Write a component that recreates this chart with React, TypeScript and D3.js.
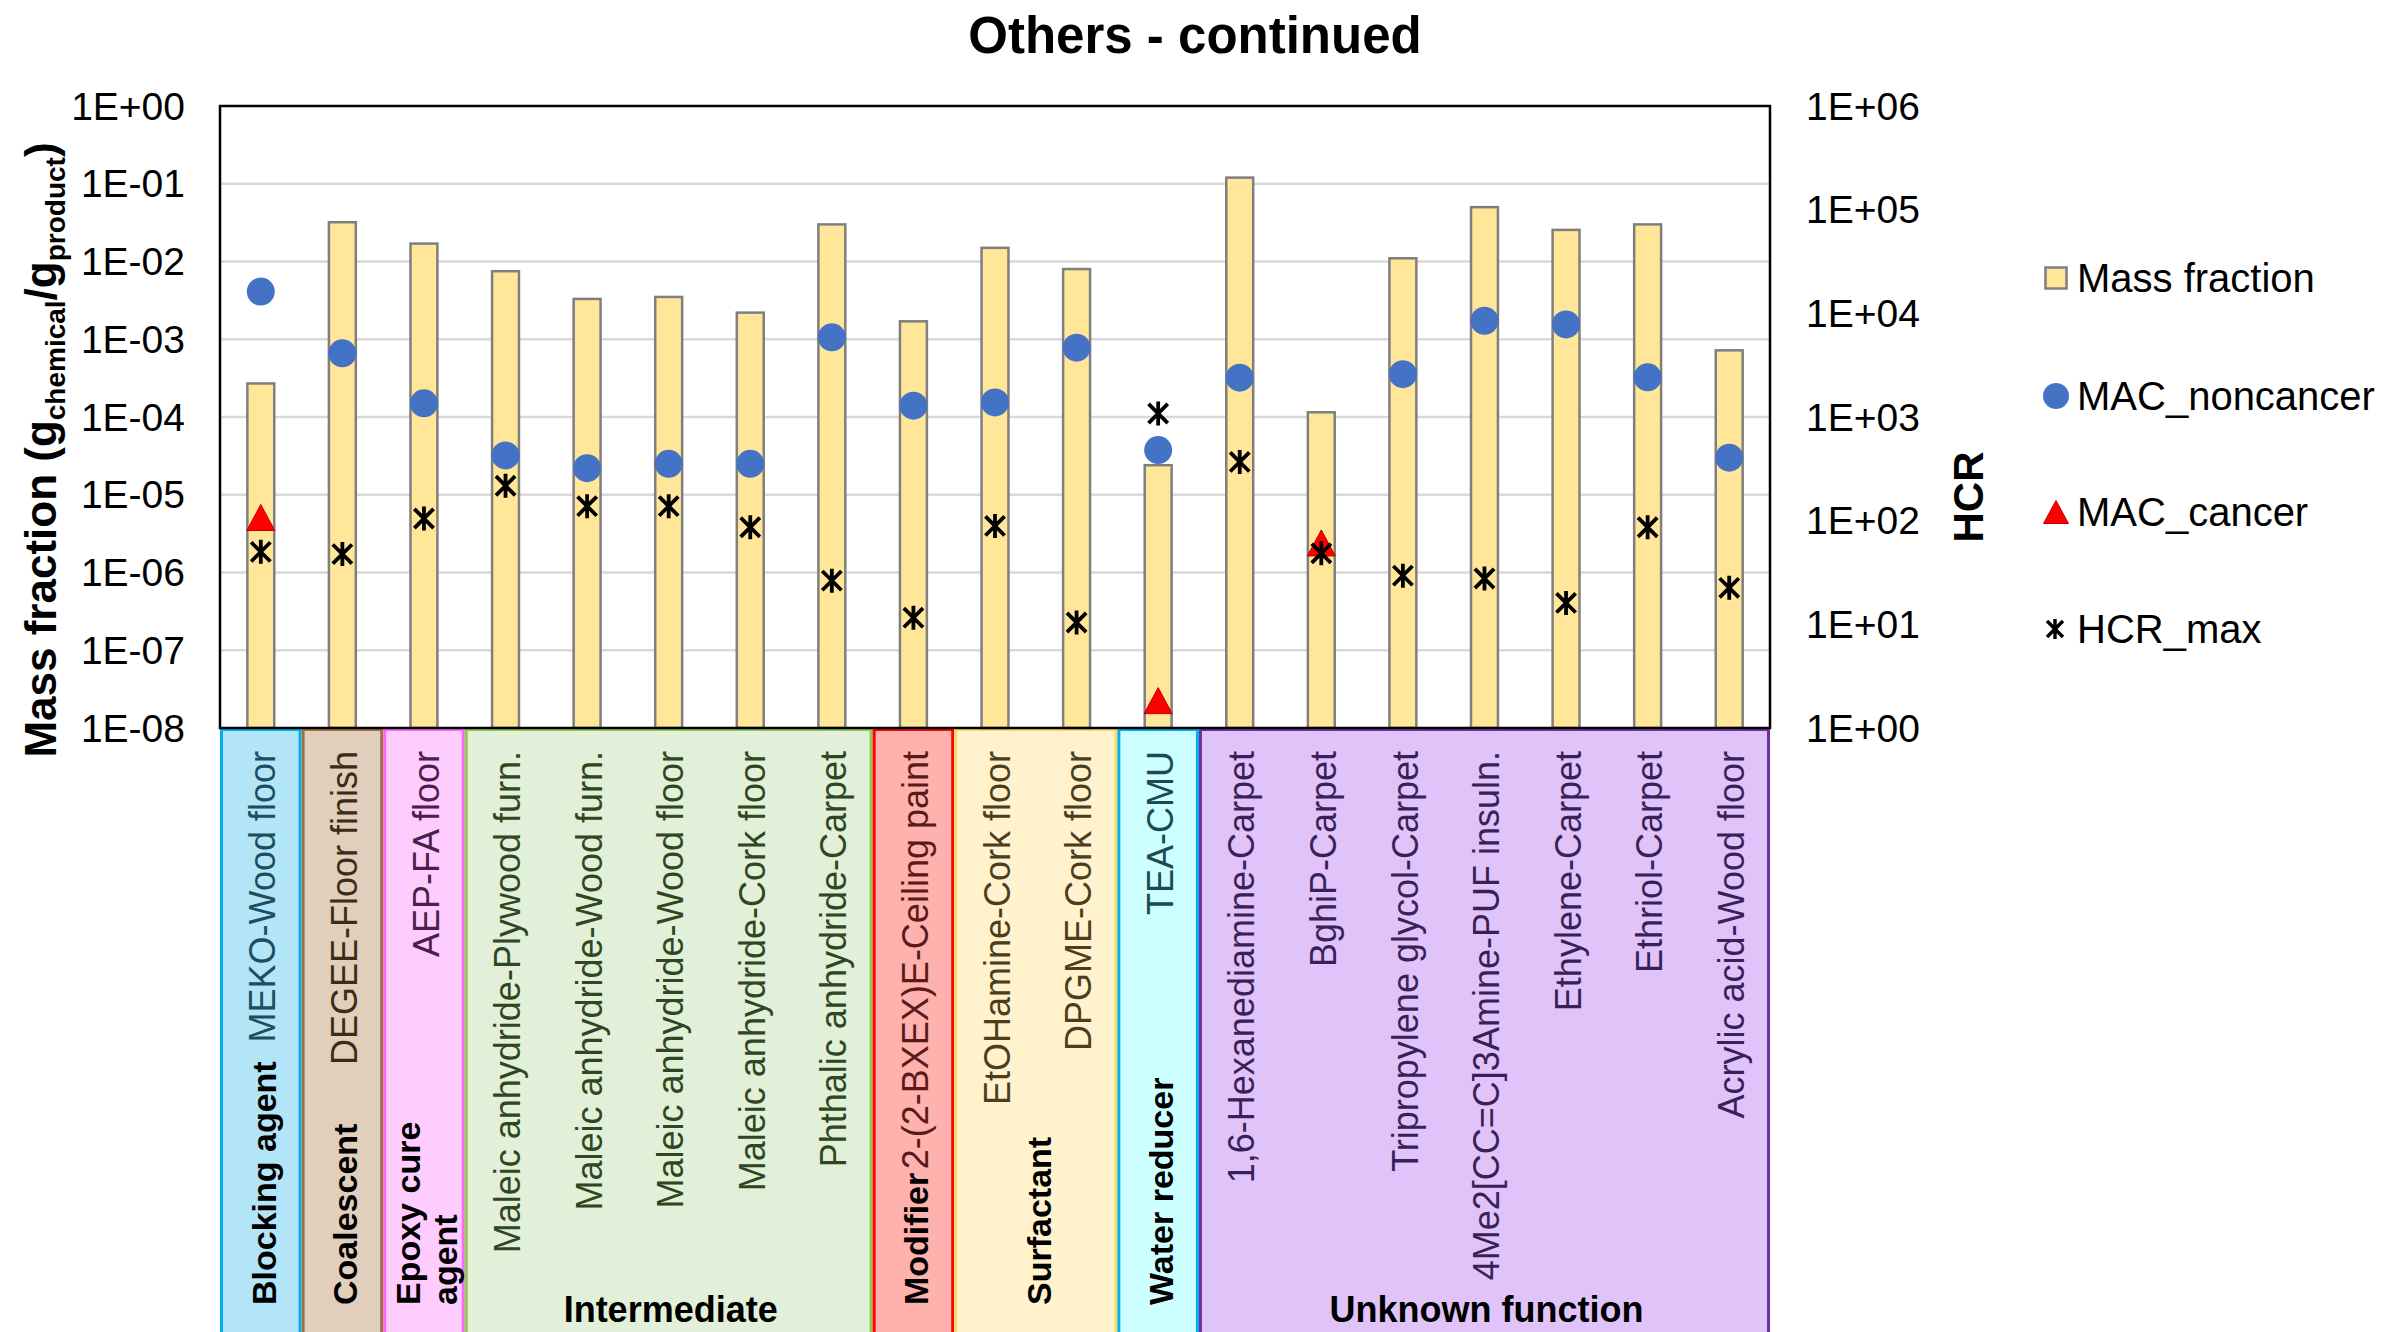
import React from "react";
import * as d3 from "d3";

// Product / chemical combinations along the x axis
const categories = [
  "MEKO-Wood floor",
  "DEGEE-Floor finish",
  "AEP-FA floor",
  "Maleic anhydride-Plywood furn.",
  "Maleic anhydride-Wood furn.",
  "Maleic anhydride-Wood floor",
  "Maleic anhydride-Cork floor",
  "Phthalic anhydride-Carpet",
  "2-(2-BXEX)E-Ceiling paint",
  "EtOHamine-Cork floor",
  "DPGME-Cork floor",
  "TEA-CMU",
  "1,6-Hexanediamine-Carpet",
  "BghiP-Carpet",
  "Tripropylene glycol-Carpet",
  "4Me2[CC=C]3Amine-PUF insuln.",
  "Ethylene-Carpet",
  "Ethriol-Carpet",
  "Acrylic acid-Wood floor",
];

// Left axis series (g chemical / g product)
const massFraction = [
  2.7e-4, 3.2e-2, 1.7e-2, 7.5e-3, 3.3e-3, 3.5e-3, 2.2e-3, 3.0e-2, 1.7e-3, 1.5e-2,
  8.0e-3, 2.4e-5, 1.2e-1, 1.15e-4, 1.1e-2, 5.0e-2, 2.55e-2, 3.0e-2, 7.2e-4,
];
const macNoncancer: (number | null)[] = [
  4.1e-3, 6.6e-4, 1.5e-4, 3.2e-5, 2.2e-5, 2.5e-5, 2.5e-5, 1.06e-3, 1.4e-4, 1.54e-4,
  7.8e-4, 3.75e-5, 3.2e-4, null, 3.55e-4, 1.73e-3, 1.55e-3, 3.24e-4, 3.0e-5,
];
const macCancer: (number | null)[] = [
  5.1e-6, null, null, null, null, null, null, null, null, null,
  null, 2.25e-8, null, 2.4e-6, null, null, null, null, null,
];

// Right axis series
const hcrMax = [
  50, 47.6, 105, 217, 138, 138, 86.5, 26.4, 11.6, 89,
  10.4, 1080, 369, 48.4, 29.5, 27.7, 16.1, 86.5, 22.5,
];

// Function groups shown as coloured boxes under the axis
const groupLines = [
  ["Blocking agent"],
  ["Coalescent"],
  ["Epoxy cure", "agent"],
  ["Intermediate"],
  ["Modifier"],
  ["Surfactant"],
  ["Water reducer"],
  ["Unknown function"],
];
const groupStart = [0, 1, 2, 3, 8, 9, 11, 12];
const groupEnd = [0, 1, 2, 7, 8, 10, 11, 18];
const groupHorizontal = [false, false, false, true, false, false, false, true];
const groupFill = ["#B3E5F8", "#E1CFBC", "#FFCCFF", "#E2EFD9", "#FFB1AE", "#FFF2CC", "#CCFFFF", "#DFC3F9"];
const groupStroke = ["#00B0F0", "#A0703F", "#FF66FF", "#8CCB4E", "#FF0000", "#FFD966", "#00B0F0", "#7030A0"];
const groupInk = ["#1E4D5E", "#3B2B1A", "#4A2048", "#2E4720", "#5A1A1A", "#4A3E1C", "#1C4A50", "#3A1F58"];

const leftTickExponents = [0, -1, -2, -3, -4, -5, -6, -7, -8];
const rightTickExponents = [6, 5, 4, 3, 2, 1, 0];

const legendLabels = ["Mass fraction", "MAC_noncancer", "MAC_cancer", "HCR_max"];

const W = 2384;
const H = 1332;
const M = { left: 220, right: 1770, top: 106, bottom: 728 };
const FONT = "'Liberation Sans', Arial, Helvetica, sans-serif";

const BAR_FILL = "#FFE699";
const BAR_STROKE = "#7F7F7F";
const CIRCLE = "#4472C4";
const TRI = "#FF0000";

const fmtExp = (e: number) => `1E${e >= 0 ? "+" : "-"}${String(Math.abs(e)).padStart(2, "0")}`;

function starPath(cx: number, cy: number, r: number) {
  const a = r * 0.8;
  return `M${cx - a},${cy - a}L${cx + a},${cy + a}M${cx + a},${cy - a}L${cx - a},${cy + a}M${cx},${cy - r}L${cx},${cy + r}`;
}
function triPath(cx: number, cy: number, w: number, h: number) {
  return `M${cx},${cy - h / 2}L${cx + w / 2},${cy + h / 2}L${cx - w / 2},${cy + h / 2}Z`;
}

export default function App() {
  const x = d3.scaleBand<string>().domain(categories).range([M.left, M.right]).padding(0);
  const yL = d3.scaleLog().domain([1e-8, 1]).range([M.bottom, M.top]);
  const yR = d3.scaleLog().domain([1, 1e6]).range([M.bottom, M.top]);
  const bw = x.bandwidth();
  const barW = bw * 0.33;
  const cx = (i: number) => (x(categories[i]) as number) + bw / 2;

  const boxTop = M.bottom + 1.5;

  return (
    <svg
      width={W}
      height={H}
      viewBox={`0 0 ${W} ${H}`}
      style={{ position: "absolute", left: 0, top: 0, background: "#fff" }}
      fontFamily={FONT}
    >
      <rect x={0} y={0} width={W} height={H} fill="#fff" />

      {/* title */}
      <text x={1195} y={53} textAnchor="middle" fontSize={51} fontWeight="bold" fill="#000">
        Others - continued
      </text>

      {/* gridlines */}
      {leftTickExponents
        .filter((e) => e !== 0 && e !== -8)
        .map((e) => (
          <line
            key={e}
            x1={M.left}
            x2={M.right}
            y1={yL(Math.pow(10, e))}
            y2={yL(Math.pow(10, e))}
            stroke="#D9D9D9"
            strokeWidth={2.5}
          />
        ))}

      {/* group boxes */}
      {groupLines.map((lines, g) => {
        const x0 = (x(categories[groupStart[g]]) as number) + 1.5;
        const x1 = (x(categories[groupEnd[g]]) as number) + bw - 1.5;
        return (
          <rect
            key={g}
            x={x0}
            y={boxTop}
            width={x1 - x0}
            height={H - boxTop + 20}
            fill={groupFill[g]}
            stroke={groupStroke[g]}
            strokeWidth={3}
          />
        );
      })}

      {/* mass fraction bars */}
      {massFraction.map((v, i) => (
        <rect
          key={i}
          x={cx(i) - barW / 2}
          y={yL(v)}
          width={barW}
          height={M.bottom - yL(v)}
          fill={BAR_FILL}
          stroke={BAR_STROKE}
          strokeWidth={2.5}
        />
      ))}

      {/* MAC_noncancer */}
      {macNoncancer.map((v, i) =>
        v == null ? null : <circle key={i} cx={cx(i)} cy={yL(v)} r={14} fill={CIRCLE} />
      )}

      {/* MAC_cancer */}
      {macCancer.map((v, i) =>
        v == null ? null : (
          <path key={i} d={triPath(cx(i), yL(v), 28, 26)} fill={TRI} stroke="#C00000" strokeWidth={1} />
        )
      )}

      {/* HCR_max on secondary axis */}
      {hcrMax.map((v, i) => (
        <path key={i} d={starPath(cx(i), yR(v), 12)} stroke="#000" strokeWidth={3.8} fill="none" />
      ))}

      {/* plot frame */}
      <rect
        x={M.left}
        y={M.top}
        width={M.right - M.left}
        height={M.bottom - M.top}
        fill="none"
        stroke="#000"
        strokeWidth={2.5}
      />

      {/* left tick labels */}
      {leftTickExponents.map((e) => (
        <text key={e} x={185} y={yL(Math.pow(10, e))} dy="0.35em" textAnchor="end" fontSize={39} fill="#000">
          {fmtExp(e)}
        </text>
      ))}

      {/* right tick labels */}
      {rightTickExponents.map((e) => (
        <text key={e} x={1806} y={yR(Math.pow(10, e))} dy="0.35em" textAnchor="start" fontSize={39} fill="#000">
          {fmtExp(e)}
        </text>
      ))}

      {/* left axis title */}
      <text transform="translate(56,450) rotate(-90)" textAnchor="middle" fontSize={44} fontWeight="bold" fill="#000">
        Mass fraction (g
        <tspan fontSize={28} dy={9}>chemical</tspan>
        <tspan fontSize={44} dy={-9}>/g</tspan>
        <tspan fontSize={28} dy={9}>product</tspan>
        <tspan fontSize={44} dy={-9}>)</tspan>
      </text>

      {/* right axis title */}
      <text transform="translate(1983,497) rotate(-90)" textAnchor="middle" fontSize={42} fontWeight="bold" fill="#000">
        HCR
      </text>

      {/* category labels */}
      {categories.map((c, i) => {
        const g = groupStart.findIndex((s, k) => i >= s && i <= groupEnd[k]);
        return (
          <text
            key={c}
            transform={`translate(${cx(i) + 2},751) rotate(-90)`}
            dy="0.35em"
            textAnchor="end"
            fontSize={36}
            fill={groupInk[g]}
          >
            {c}
          </text>
        );
      })}

      {/* group labels */}
      {groupLines.map((lines, g) => {
        const x0 = x(categories[groupStart[g]]) as number;
        const x1 = (x(categories[groupEnd[g]]) as number) + bw;
        const mid = (x0 + x1) / 2;
        if (groupHorizontal[g]) {
          return (
            <text key={g} x={mid + 2} y={1322} textAnchor="middle" fontSize={36} fontWeight="bold" fill="#000">
              {lines[0]}
            </text>
          );
        }
        const step = 37;
        return lines.map((ln, k) => (
          <text
            key={`${g}-${k}`}
            transform={`translate(${mid + 3 + (k - (lines.length - 1) / 2) * step},1305) rotate(-90)`}
            dy="0.35em"
            textAnchor="start"
            fontSize={34}
            fontWeight="bold"
            fill="#000"
          >
            {ln}
          </text>
        ));
      })}

      {/* legend */}
      <g>
        <rect x={2045.5} y={267.5} width={21} height={21} fill={BAR_FILL} stroke={BAR_STROKE} strokeWidth={2.5} />
        <circle cx={2056} cy={396} r={13} fill={CIRCLE} />
        <path d={triPath(2056, 512, 25, 23)} fill={TRI} stroke="#C00000" strokeWidth={1} />
        <path d={starPath(2055, 629, 10)} stroke="#000" strokeWidth={3.4} fill="none" />
        {legendLabels.map((l, k) => (
          <text key={l} x={2077} y={[278, 396, 512, 629][k]} dy="0.35em" fontSize={40} fill="#000">
            {l}
          </text>
        ))}
      </g>
    </svg>
  );
}
